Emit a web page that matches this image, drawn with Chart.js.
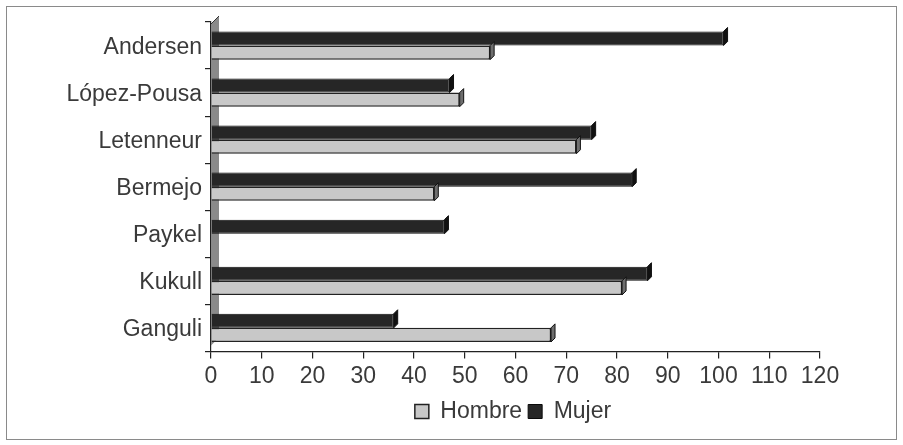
<!DOCTYPE html>
<html>
<head>
<meta charset="utf-8">
<script src="https://cdn.jsdelivr.net/npm/chart.js@4"></script>
<style>
  body { margin: 0; background: #fff; }
  #caja { width: 903px; height: 445px; }
</style>
</head>
<body>
<div id="caja"><canvas id="grafica-barras" width="903" height="445"></canvas></div>
<script>
const estudios = ['Andersen', 'López-Pousa', 'Letenneur', 'Bermejo', 'Paykel', 'Kukull', 'Ganguli']
const hombre = [55, 49, 72, 44, null, 81, 67]
const mujer = [101, 47, 75, 83, 46, 86, 36]
const marcasX = [0, 10, 20, 30, 40, 50, 60, 70, 80, 90, 100, 110, 120]

const fuente = { family: 'Liberation Sans', size: 23 }

//? marco, pared gris, lado 3D de las barras y leyenda corrida a la derecha
const efecto3d = {
    id: 'efecto3d',
    afterLayout(chart) {
        const off = 98
        chart.legend.left += off
        chart.legend.right += off
    },
    beforeDraw(chart) {
        const ctx = chart.ctx
        ctx.save()
        ctx.strokeStyle = '#8a8a8a'
        ctx.lineWidth = 1
        ctx.strokeRect(6.5, 6.5, 890, 433)
        ctx.restore()
    },
    beforeDatasetsDraw(chart) {
        const { ctx, chartArea: a } = chart
        ctx.save()
        ctx.fillStyle = '#8a8a8a'
        ctx.strokeStyle = '#333'
        ctx.lineWidth = 1
        ctx.beginPath()
        ctx.moveTo(a.left, a.top + 2)
        ctx.lineTo(a.left + 8, a.top - 6)
        ctx.lineTo(a.left + 8, a.bottom - 14)
        ctx.lineTo(a.left, a.bottom - 6)
        ctx.closePath()
        ctx.fill()
        ctx.beginPath()
        ctx.moveTo(a.left, a.top + 2)
        ctx.lineTo(a.left + 8, a.top - 6)
        ctx.stroke()
        ctx.restore()
    },
    afterDatasetsDraw(chart) {
        const ctx = chart.ctx
        const d = 4
        ctx.save()
        chart.data.datasets.forEach((ds, i) => {
            chart.getDatasetMeta(i).data.forEach((bar, j) => {
                if (ds.data[j] == null) return
                const h = bar.height
                const x = bar.x
                const top = bar.y - h / 2
                ctx.fillStyle = i === 0 ? '#111' : '#6e6e6e'
                ctx.strokeStyle = '#111'
                ctx.beginPath()
                ctx.moveTo(x, top)
                ctx.lineTo(x + d, top - d)
                ctx.lineTo(x + d, top + h - d)
                ctx.lineTo(x, top + h)
                ctx.closePath()
                ctx.fill()
                ctx.stroke()
            })
        })
        ctx.restore()
    }
}

const config = {
    type: 'bar',
    data: {
        labels: estudios,
        datasets: [
            {
                label: 'Mujer',
                data: mujer,
                backgroundColor: '#262626',
                borderColor: '#0a0a0a',
                borderWidth: 1,
                categoryPercentage: 0.6,
                barPercentage: 1.0
            },
            {
                label: 'Hombre',
                data: hombre,
                backgroundColor: '#c8c8c8',
                borderColor: '#222',
                borderWidth: 1.5,
                categoryPercentage: 0.6,
                barPercentage: 1.0
            }
        ]
    },
    options: {
        indexAxis: 'y',
        responsive: false,
        animation: false,
        layout: { padding: { top: 22, left: 10, right: 83, bottom: 12 } },
        scales: {
            x: {
                min: 0,
                max: 120,
                afterBuildTicks: (s) => { s.ticks = marcasX.map(v => ({ value: v })) },
                grid: { drawOnChartArea: false, tickLength: 7, color: '#222', lineWidth: 1.2 },
                border: { color: '#222', width: 1.2 },
                ticks: { color: '#3a3a3a', font: fuente, padding: 4 }
            },
            y: {
                afterFit: (s) => { s.width = 201 },
                grid: { drawOnChartArea: false, tickLength: 6, color: '#222', lineWidth: 1.2 },
                border: { color: '#222', width: 1.2 },
                ticks: { color: '#3a3a3a', font: fuente, padding: 3, labelOffset: 2 }
            }
        },
        plugins: {
            tooltip: { enabled: false },
            legend: {
                position: 'bottom',
                reverse: true,
                labels: {
                    color: '#3a3a3a',
                    font: fuente,
                    boxWidth: 14,
                    boxHeight: 14,
                    padding: 6,
                    useBorderRadius: false
                }
            }
        }
    },
    plugins: [efecto3d]
}

const barras = document.getElementById('grafica-barras')
const grafBarras = new Chart(barras, config)
</script>
</body>
</html>
